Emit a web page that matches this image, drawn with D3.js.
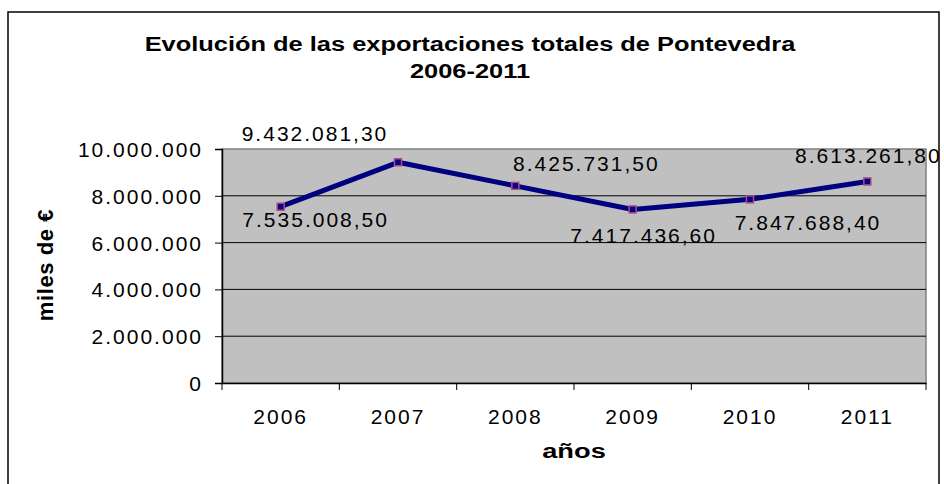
<!DOCTYPE html>
<meta charset="utf-8" />
<style>
  body { margin: 0; background: #fff; }
  text { font-family: 'Liberation Sans', Arial, sans-serif; fill: #000; }
  .num { font-size: 21px; letter-spacing: 2px; }
</style>
<svg width="944" height="484"></svg>
<script src="https://d3js.org/d3.v7.min.js"></script>
<script>
  var years = ['2006', '2007', '2008', '2009', '2010', '2011'];
  var exports = [7535008.5, 9432081.3, 8425731.5, 7417436.6, 7847688.4, 8613261.8];
  var yTicks = [0, 2000000, 4000000, 6000000, 8000000, 10000000];
  var titleLines = ['Evolución de las exportaciones totales de Pontevedra', '2006-2011'];

  // label placement relative to each point (layout only)
  var labelShift = [[35, 13], [-83, -29], [71, -22], [11, 26], [58, 23], [1, -26]];

  var svg = d3.select('svg'),
    margin = { top: 149, right: 18, bottom: 101, left: 222 },
    width = 944 - margin.left - margin.right,
    height = 484 - margin.top - margin.bottom;

  var es = d3.formatLocale({ decimal: ',', thousands: '.', grouping: [3], currency: ['', '€'] });
  var fmtInt = es.format(',.0f'),
    fmtDec = es.format(',.2f');

  // outer chart border (bottom edge falls below the window)
  svg.append('rect')
    .attr('x', 8).attr('y', 12)
    .attr('width', 931).attr('height', 490)
    .attr('fill', 'none').attr('stroke', '#000').attr('stroke-width', 1.5);

  // the original text is drawn wide, so stretch it horizontally
  svg.selectAll('.title')
    .data(titleLines)
    .enter().append('text')
    .attr('class', 'title')
    .attr('transform', function (d, i) {
      return 'translate(470,' + (51 + i * 27) + ') scale(1.27,1)';
    })
    .attr('text-anchor', 'middle')
    .style('font-size', '20px')
    .style('font-weight', 'bold')
    .text(function (d) { return d; });

  var g = svg.append('g')
    .attr('transform', 'translate(' + margin.left + ',' + margin.top + ')');

  var x = d3.scaleBand().domain(years).range([0, width]);
  var y = d3.scaleLinear().domain([0, 10000000]).range([height, 0]);

  g.append('rect')
    .attr('width', width).attr('height', height)
    .attr('fill', '#c0c0c0')
    .attr('stroke', '#808080').attr('stroke-width', 1.5);

  // gridlines
  g.selectAll('.grid')
    .data(yTicks.slice(1, -1))
    .enter().append('line')
    .attr('x1', 0).attr('x2', width)
    .attr('y1', function (d) { return y(d); })
    .attr('y2', function (d) { return y(d); })
    .attr('stroke', '#000').attr('stroke-width', 1);

  var yAxis = g.append('g')
    .call(d3.axisLeft(y).tickValues(yTicks).tickSize(7).tickPadding(12).tickFormat(fmtInt));
  yAxis.select('.domain').attr('stroke', '#000').attr('stroke-width', 1.5);
  yAxis.selectAll('text').attr('class', 'num').attr('dy', '0.36em');

  var xAxis = g.append('g')
    .attr('transform', 'translate(0,' + height + ')')
    .call(d3.axisBottom(x).tickSize(0).tickPadding(26));
  xAxis.select('.domain').attr('stroke', '#000').attr('stroke-width', 1.5);
  xAxis.selectAll('text').attr('class', 'num');

  // category separators below the axis
  xAxis.selectAll('.sep')
    .data(years.concat(['end']))
    .enter().append('line')
    .attr('x1', function (d, i) { return i * x.step(); })
    .attr('x2', function (d, i) { return i * x.step(); })
    .attr('y1', 0).attr('y2', 7)
    .attr('stroke', '#000');

  g.append('text')
    .attr('transform', 'translate(' + (45 - margin.left) + ',' + (265 - margin.top) + ') rotate(-90)')
    .attr('dy', '0.35em')
    .attr('text-anchor', 'middle')
    .style('font-size', '22px')
    .style('font-weight', 'bold')
    .style('letter-spacing', '0.6px')
    .text('miles de €');

  g.append('text')
    .attr('transform', 'translate(' + (width / 2) + ',' + (458 - margin.top) + ') scale(1.3,1)')
    .attr('text-anchor', 'middle')
    .style('font-size', '21px')
    .style('font-weight', 'bold')
    .text('años');

  var pts = years.map(function (yr, i) {
    return { year: yr, value: exports[i], shift: labelShift[i] };
  });

  var line = d3.line()
    .x(function (d) { return x(d.year) + x.bandwidth() / 2; })
    .y(function (d) { return y(d.value); });

  g.append('path')
    .datum(pts)
    .attr('d', line)
    .attr('fill', 'none')
    .attr('stroke', '#000080')
    .attr('stroke-width', 5)
    .attr('stroke-linejoin', 'round');

  g.selectAll('.mark')
    .data(pts)
    .enter().append('rect')
    .attr('x', function (d) { return x(d.year) + x.bandwidth() / 2 - 3.5; })
    .attr('y', function (d) { return y(d.value) - 3.5; })
    .attr('width', 7).attr('height', 7)
    .attr('fill', '#000080')
    .attr('stroke', '#b04a8a').attr('stroke-width', 1.5);

  g.selectAll('.lbl')
    .data(pts)
    .enter().append('text')
    .attr('class', 'num')
    .attr('x', function (d) { return x(d.year) + x.bandwidth() / 2 + d.shift[0]; })
    .attr('y', function (d) { return y(d.value) + d.shift[1]; })
    .attr('dy', '0.36em')
    .attr('text-anchor', 'middle')
    .text(function (d) { return fmtDec(d.value); });
</script>
